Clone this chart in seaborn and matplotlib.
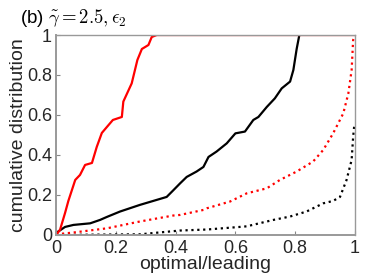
import numpy as np
import pandas as pd
import seaborn as sns
import matplotlib.pyplot as plt

# curves (x = optimal/leading, y = cumulative fraction)
red_solid_x = [0, 0.013, 0.03, 0.041, 0.064, 0.08, 0.097, 0.12, 0.136, 0.153, 0.17, 0.19,
               0.21, 0.22, 0.225, 0.253, 0.272, 0.287, 0.309, 0.32, 0.337, 1.0]
red_solid_y = [0, 0.025, 0.11, 0.17, 0.275, 0.3, 0.35, 0.36, 0.44, 0.51, 0.54, 0.575,
               0.585, 0.59, 0.667, 0.758, 0.875, 0.93, 0.95, 0.99, 1.0, 1.0]

black_solid_x = [0, 0.01, 0.03, 0.058, 0.114, 0.147, 0.17, 0.214, 0.28, 0.325, 0.37, 0.39,
                 0.415, 0.437, 0.47, 0.493, 0.51, 0.537, 0.571, 0.6, 0.632, 0.66, 0.677,
                 0.705, 0.732, 0.755, 0.783, 0.794, 0.805, 0.814]
black_solid_y = [0.01, 0.02, 0.04, 0.05, 0.058, 0.075, 0.09, 0.117, 0.15, 0.17, 0.19, 0.22,
                 0.258, 0.29, 0.317, 0.34, 0.39, 0.417, 0.458, 0.508, 0.517, 0.575, 0.59,
                 0.64, 0.683, 0.733, 0.767, 0.825, 0.93, 1.0]

red_dot_x = [0, 0.058, 0.17, 0.28, 0.392, 0.415, 0.493, 0.504, 0.582, 0.638, 0.705, 0.749,
             0.805, 0.86, 0.894, 0.927, 0.961, 0.978, 0.989, 0.994, 1.0]
red_dot_y = [0.003, 0.012, 0.033, 0.067, 0.097, 0.1, 0.125, 0.133, 0.167, 0.208, 0.233,
             0.275, 0.317, 0.367, 0.425, 0.508, 0.608, 0.708, 0.825, 0.975, 1.0]

black_dot_x = [0, 0.28, 0.415, 0.504, 0.615, 0.638, 0.727, 0.783, 0.838, 0.894, 0.927,
               0.95, 0.972, 0.989, 0.994, 0.998]
black_dot_y = [0, 0.003, 0.022, 0.027, 0.04, 0.043, 0.075, 0.092, 0.117, 0.158, 0.17,
               0.19, 0.275, 0.375, 0.49, 0.55]

ticks = [0, 0.2, 0.4, 0.6, 0.8, 1]
tick_labels = ['0', '0.2', '0.4', '0.6', '0.8', '1']

sns.set_style('white')
plt.rcParams['font.family'] = ['Liberation Sans', 'DejaVu Sans']
plt.rcParams['mathtext.fontset'] = 'cm'

fig = plt.figure(figsize=(3.74, 2.80), dpi=100)
ax = fig.add_axes([0.150, 0.161, 0.799, 0.714])

curves = [
    (black_dot_x, black_dot_y, 'black', ':'),
    (red_dot_x, red_dot_y, 'red', ':'),
    (black_solid_x, black_solid_y, 'black', '-'),
    (red_solid_x, red_solid_y, 'red', '-'),
]
for xs, ys, c, ls in curves:
    df = pd.DataFrame({'x': xs, 'y': ys})
    sns.lineplot(data=df, x='x', y='y', color=c, linestyle=ls, lw=1.6,
                 sort=False, estimator=None, ax=ax)

ax.set_xlim(0, 1)
ax.set_ylim(0, 1)
ax.set_xticks(ticks)
ax.set_xticklabels(tick_labels)
ax.set_yticks(ticks)
ax.set_yticklabels(tick_labels)
ax.tick_params(direction='in', length=3, width=0.8, color='#888888',
               labelsize=13)
ax.tick_params(axis='x', bottom=True, pad=4)
ax.tick_params(axis='y', left=True, pad=3)
for s in ax.spines.values():
    s.set_color('#999999')
    s.set_linewidth(1.0)
ax.spines['left'].set_linewidth(1.4)
ax.spines['bottom'].set_linewidth(1.4)

ax.set_xlabel('optimal/leading', fontsize=14, labelpad=-1)
ax.set_ylabel('cumulative distribution', fontsize=14, labelpad=0)

fig.text(20 / 374, 1 - 23 / 280, r'(b) $\tilde{\gamma}=2.5, \epsilon_2$',
         fontsize=13.5, color='black', va='baseline', ha='left')

fig.savefig('out.png', dpi=100)
